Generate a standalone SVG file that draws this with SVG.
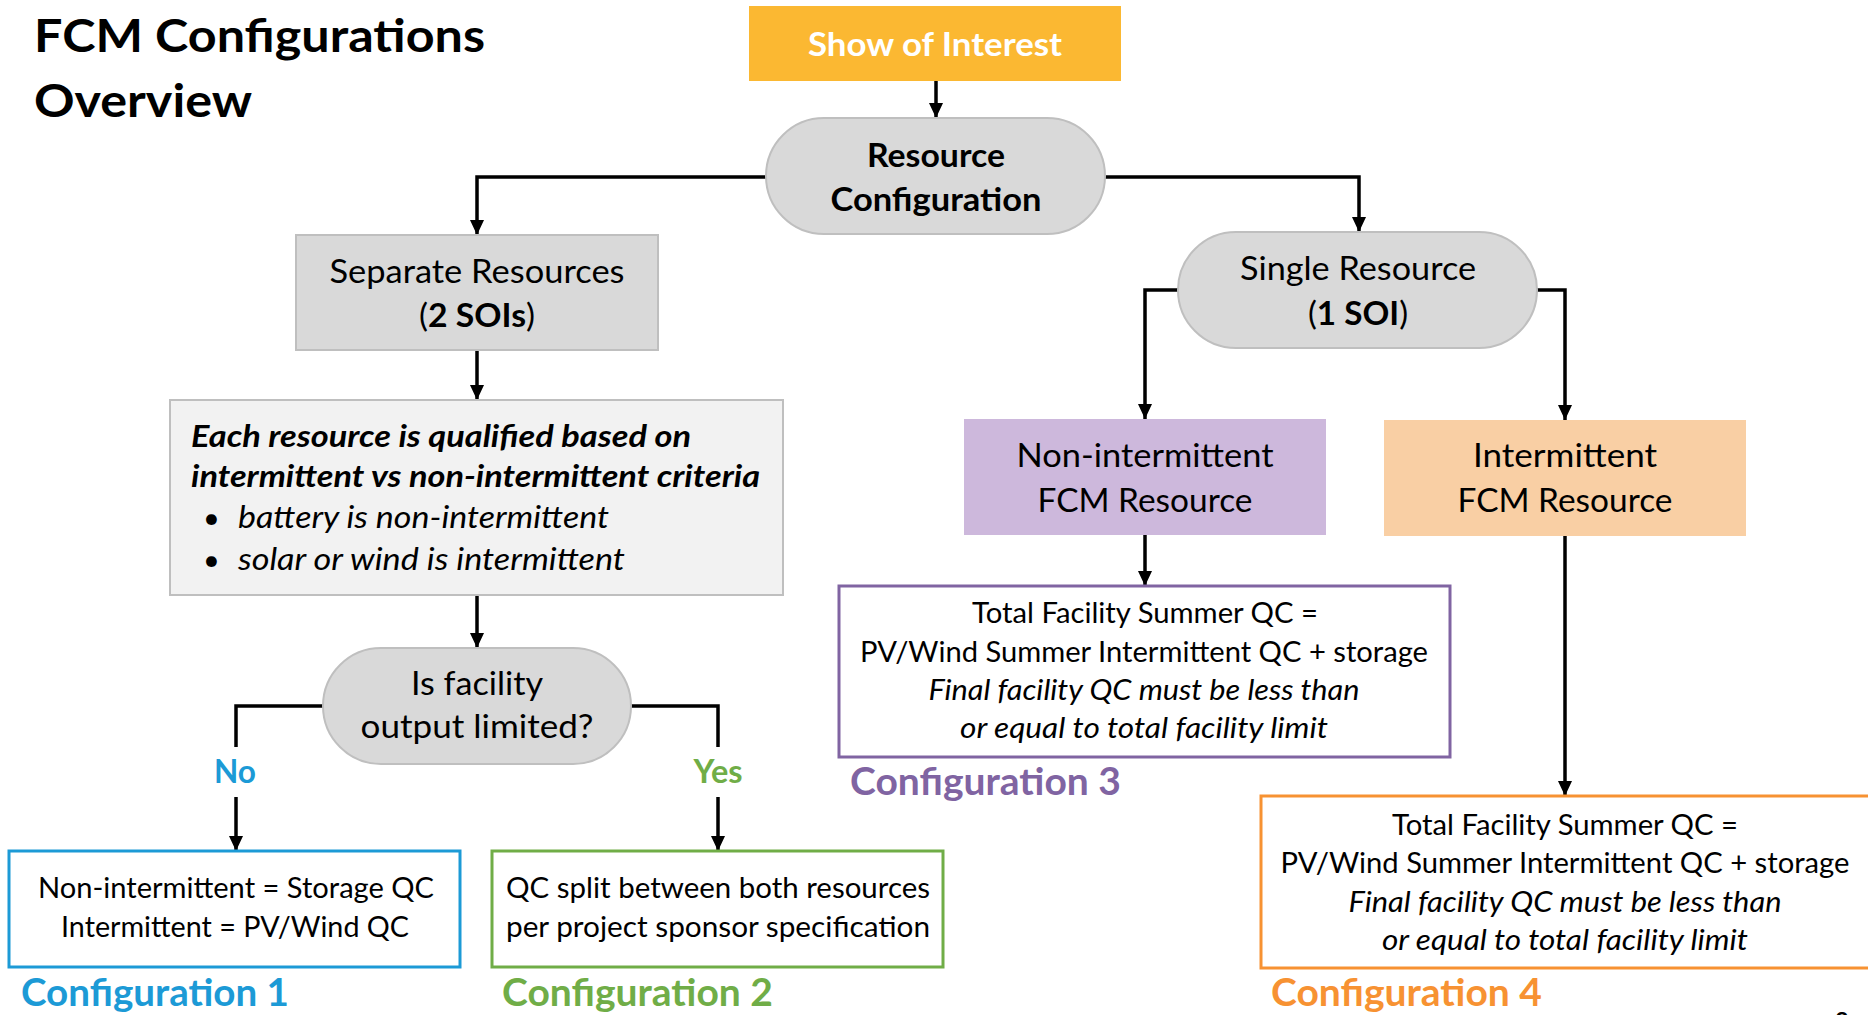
<svg xmlns="http://www.w3.org/2000/svg" width="1868" height="1015" viewBox="0 0 1868 1015">
<defs>
<marker id="ah" markerUnits="userSpaceOnUse" markerWidth="15" markerHeight="15" refX="15" refY="7.5" orient="auto">
<path d="M0,0.5 L15,7.5 L0,14.5 z" fill="#000"/>
</marker>
<style>
text{font-family:Lato,"Open Sans","Liberation Sans",sans-serif;fill:#000}
.t{font-size:33px;text-anchor:middle}
.b{font-weight:bold}
.i{font-style:italic}
.c{font-size:28.5px;text-anchor:middle}
.lab{font-size:38px;font-weight:bold}
.pill{fill:#D9D9D9;stroke:#BFBFBF;stroke-width:2}
.gbox{fill:#D9D9D9;stroke:#BFBFBF;stroke-width:2}
.conn path{fill:none;stroke:#000;stroke-width:3.5}
.cfg{fill:#fff;stroke-width:3}
</style>
</defs>
<rect width="1868" height="1015" fill="#fff"/>
<g id="title">
<text x="34" y="52" font-size="45" font-weight="bold" textLength="451" lengthAdjust="spacingAndGlyphs">FCM Configurations</text>
<text x="34" y="117" font-size="45" font-weight="bold" textLength="218" lengthAdjust="spacingAndGlyphs">Overview</text>
</g>
<g class="conn" id="connectors">
<path d="M936,81 V118" marker-end="url(#ah)"/>
<path d="M766,177 H477 V235" marker-end="url(#ah)"/>
<path d="M1105,177 H1359 V232" marker-end="url(#ah)"/>
<path d="M477,350 V400" marker-end="url(#ah)"/>
<path d="M477,595 V648" marker-end="url(#ah)"/>
<path d="M323,706 H236 V747"/>
<path d="M236,797 V851" marker-end="url(#ah)"/>
<path d="M631,706 H718 V747"/>
<path d="M718,797 V851" marker-end="url(#ah)"/>
<path d="M1178,290 H1145 V419" marker-end="url(#ah)"/>
<path d="M1537,290 H1565 V420" marker-end="url(#ah)"/>
<path d="M1145,535 V586" marker-end="url(#ah)"/>
<path d="M1565,536 V796" marker-end="url(#ah)"/>
</g>
<g id="show-of-interest">
<rect x="749" y="6" width="372" height="75" fill="#FBB832"/>
<text class="t b" x="935" y="56" style="fill:#fff" textLength="254" lengthAdjust="spacingAndGlyphs">Show of Interest</text>
</g>
<g id="resource-configuration">
<rect class="pill" x="766" y="118" width="339" height="116" rx="58"/>
<text class="t b" x="936" y="167" textLength="138" lengthAdjust="spacingAndGlyphs">Resource</text>
<text class="t b" x="936" y="211" textLength="211" lengthAdjust="spacingAndGlyphs">Configuration</text>
</g>
<g id="separate-resources">
<rect class="gbox" x="296" y="235" width="362" height="115"/>
<text class="t" x="477" y="283" textLength="295" lengthAdjust="spacingAndGlyphs">Separate Resources</text>
<text class="t" x="477" y="327" textLength="116" lengthAdjust="spacingAndGlyphs">(<tspan class="b">2 SOIs</tspan>)</text>
</g>
<g id="qualification">
<rect x="170" y="400" width="613" height="195" fill="#F2F2F2" stroke="#BFBFBF" stroke-width="2"/>
<text class="b i" x="191" y="447" font-size="30" textLength="500" lengthAdjust="spacingAndGlyphs">Each resource is qualified based on</text>
<text class="b i" x="191" y="487" font-size="30" textLength="569" lengthAdjust="spacingAndGlyphs">intermittent vs non-intermittent criteria</text>
<text x="203" y="528" font-size="29">•</text>
<text class="i" x="238" y="528" font-size="30" textLength="371" lengthAdjust="spacingAndGlyphs">battery is non-intermittent</text>
<text x="203" y="570" font-size="29">•</text>
<text class="i" x="238" y="570" font-size="30" textLength="387" lengthAdjust="spacingAndGlyphs">solar or wind is intermittent</text>
</g>
<g id="output-limited">
<rect class="pill" x="323" y="648" width="308" height="116" rx="58"/>
<text class="t" x="477" y="695" textLength="132" lengthAdjust="spacingAndGlyphs">Is facility</text>
<text class="t" x="477" y="738" textLength="233" lengthAdjust="spacingAndGlyphs">output limited?</text>
</g>
<g id="label-no">
<text class="b" x="235" y="783" font-size="33" text-anchor="middle" style="fill:#1C9AD6" textLength="42" lengthAdjust="spacingAndGlyphs">No</text>
</g>
<g id="label-yes">
<text class="b" x="718" y="783" font-size="33" text-anchor="middle" style="fill:#70AD47" textLength="49" lengthAdjust="spacingAndGlyphs">Yes</text>
</g>
<g id="single-resource">
<rect class="pill" x="1178" y="232" width="359" height="116" rx="58"/>
<text class="t" x="1358" y="280" textLength="236" lengthAdjust="spacingAndGlyphs">Single Resource</text>
<text class="t" x="1358" y="325" textLength="100" lengthAdjust="spacingAndGlyphs">(<tspan class="b">1 SOI</tspan>)</text>
</g>
<g id="non-intermittent">
<rect x="964" y="419" width="362" height="116" fill="#CDB8DC"/>
<text class="t" x="1145" y="467" textLength="257" lengthAdjust="spacingAndGlyphs">Non-intermittent</text>
<text class="t" x="1145" y="512" textLength="215" lengthAdjust="spacingAndGlyphs">FCM Resource</text>
</g>
<g id="intermittent">
<rect x="1384" y="420" width="362" height="116" fill="#F9CFA4"/>
<text class="t" x="1565" y="467" textLength="184" lengthAdjust="spacingAndGlyphs">Intermittent</text>
<text class="t" x="1565" y="512" textLength="215" lengthAdjust="spacingAndGlyphs">FCM Resource</text>
</g>
<g id="configuration-1">
<rect class="cfg" x="9" y="851" width="451" height="116" stroke="#1C9AD6"/>
<text class="c" x="236" y="898" textLength="396" lengthAdjust="spacingAndGlyphs">Non-intermittent = Storage QC</text>
<text class="c" x="235" y="937" textLength="348" lengthAdjust="spacingAndGlyphs">Intermittent = PV/Wind QC</text>
<text class="lab" x="21" y="1006" style="fill:#1C9AD6" textLength="268" lengthAdjust="spacingAndGlyphs">Configuration 1</text>
</g>
<g id="configuration-2">
<rect class="cfg" x="492" y="851" width="451" height="116" stroke="#70AD47"/>
<text class="c" x="718" y="898" textLength="424" lengthAdjust="spacingAndGlyphs">QC split between both resources</text>
<text class="c" x="718" y="937" textLength="424" lengthAdjust="spacingAndGlyphs">per project sponsor specification</text>
<text class="lab" x="502" y="1006" style="fill:#70AD47" textLength="271" lengthAdjust="spacingAndGlyphs">Configuration 2</text>
</g>
<g id="configuration-3">
<rect class="cfg" x="839" y="586" width="611" height="171" stroke="#8064A2"/>
<text class="c" x="1145" y="623" textLength="346" lengthAdjust="spacingAndGlyphs">Total Facility Summer QC =</text>
<text class="c" x="1144" y="662" textLength="568" lengthAdjust="spacingAndGlyphs">PV/Wind Summer Intermittent QC + storage</text>
<text class="c i" x="1144" y="700" textLength="431" lengthAdjust="spacingAndGlyphs">Final facility QC must be less than</text>
<text class="c i" x="1144" y="738" textLength="368" lengthAdjust="spacingAndGlyphs">or equal to total facility limit</text>
<text class="lab" x="850" y="795" style="fill:#8064A2" textLength="271" lengthAdjust="spacingAndGlyphs">Configuration 3</text>
</g>
<g id="configuration-4">
<rect class="cfg" x="1261" y="796" width="620" height="172" stroke="#F79232"/>
<text class="c" x="1565" y="835" textLength="346" lengthAdjust="spacingAndGlyphs">Total Facility Summer QC =</text>
<text class="c" x="1565" y="873" textLength="569" lengthAdjust="spacingAndGlyphs">PV/Wind Summer Intermittent QC + storage</text>
<text class="c i" x="1565" y="912" textLength="433" lengthAdjust="spacingAndGlyphs">Final facility QC must be less than</text>
<text class="c i" x="1565" y="950" textLength="366" lengthAdjust="spacingAndGlyphs">or equal to total facility limit</text>
<text class="lab" x="1271" y="1006" style="fill:#F79232" textLength="271" lengthAdjust="spacingAndGlyphs">Configuration 4</text>
</g>
<g id="slide-number">
<text x="1835" y="1030" font-size="24" font-weight="bold">8</text>
</g>
</svg>
